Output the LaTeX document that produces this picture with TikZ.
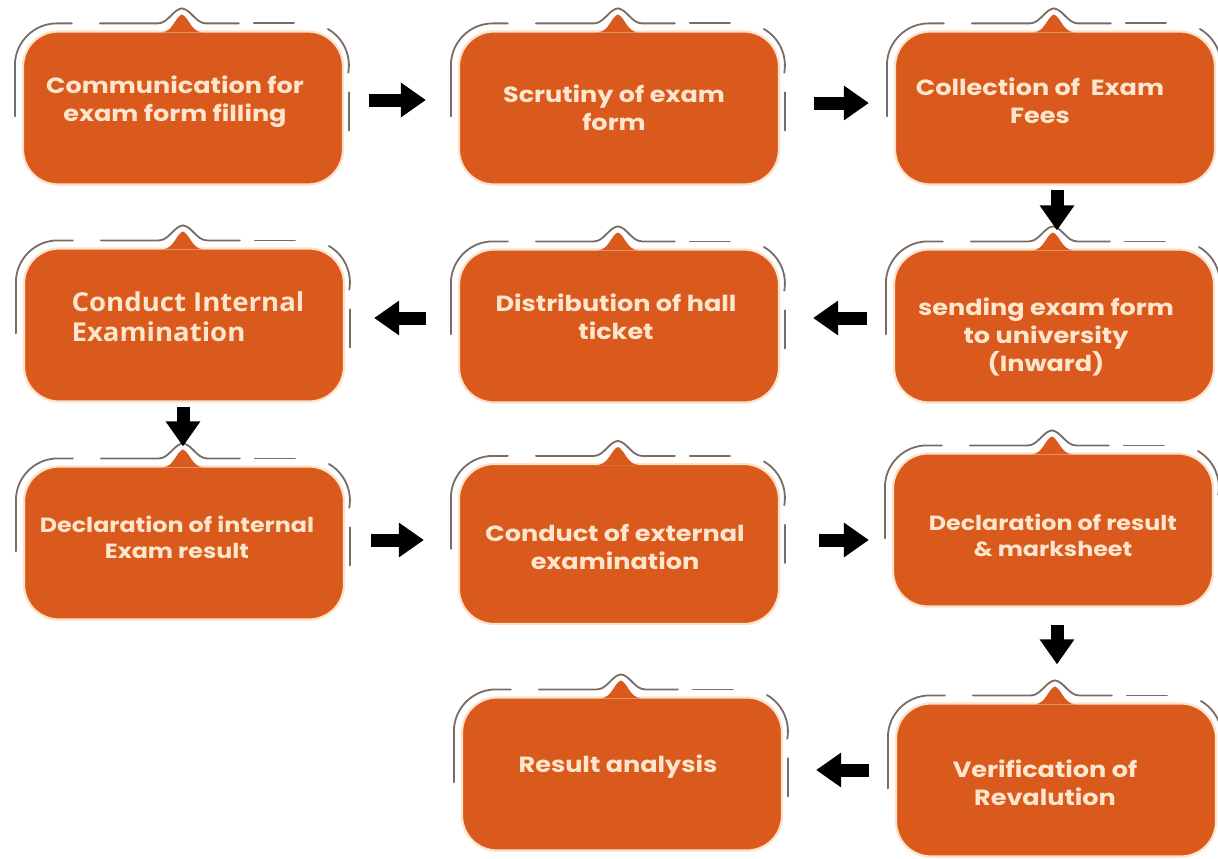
\documentclass[tikz,border=0pt]{standalone}
\usepackage{fontspec}
\setmainfont{Poppins}
\newfontfamily\wfont[FakeStretch=1.16]{Poppins}
\newfontfamily\osans[FakeStretch=1.06]{Open Sans}
\usetikzlibrary{arrows.meta}
\definecolor{boxor}{RGB}{217,90,28}
\definecolor{cream}{RGB}{252,226,200}
\definecolor{txtc}{RGB}{253,230,205}
\definecolor{olgray}{RGB}{120,108,100}
\tikzset{
  box/.style={rectangle, rounded corners=35pt, fill=boxor, draw=cream, line width=2.2pt,
    minimum width=320pt, minimum height=153pt, inner sep=0pt},
  txt/.style={text=txtc, font=\wfont\bfseries\fontsize{22}{28}\selectfont, align=center, inner sep=0pt},
  ol/.style={draw=olgray, line width=1.8pt, line cap=round},
  arr/.style={line width=13pt, -{Triangle[length=25pt,width=33pt]}},
}
\newcommand\deco[1]{%
  \begin{scope}[shift={(#1.north west)}]
    \fill[boxor] (140,2) .. controls (151,1) and (153,-13) .. (160,-16)
      .. controls (167,-13) and (169,1) .. (180,2) -- cycle;
    \draw[ol, rounded corners=42pt] (-7,86) -- (-7,-7) -- (50,-7);
    \draw[ol] (78,-7) -- (136,-7) .. controls (146,-7) and (151,-21) .. (160,-22)
      .. controls (169,-21) and (174,-7) .. (184,-7) -- (217,-7);
    \draw[ol] (232,-7) -- (272,-7);
    \draw[ol] (306,-1.4) arc[start angle=-60, end angle=10, radius=42];
    \draw[ol] (327,62) -- (327,100);
  \end{scope}}
\begin{document}
\begin{tikzpicture}[x=1pt,y=-1pt]
\useasboundingbox[fill=white] (0,0) rectangle (1218,859);
% boxes
\node[box] (b1) at (183,108) {};
\node[box] (b2) at (619,108) {};
\node[box] (b3) at (1055,108) {};
\node[box] (b4) at (184,325) {};
\node[box] (b5) at (619,326) {};
\node[box] (b6) at (1054,326) {};
\node[box] (b7) at (184,543) {};
\node[box, minimum height=160pt] (b8) at (619,544) {};
\node[box] (b9) at (1053,530) {};
\node[box] (b10) at (622,774) {};
\node[box] (b11) at (1056,780) {};
\foreach \b in {b1,b2,b3,b4,b5,b6,b7,b8,b9,b10,b11}{\deco{\b}}
% texts
\node[txt] (t1) at (175,102) {Communication for\\exam form filling};
\node[txt] (t2) at (614,108) {Scrutiny of exam\\form};
\node[txt] (t3) at (1040,101) {Collection of \ Exam\\Fees};
\node[txt, align=left, font=\osans\bfseries\fontsize{26}{30}\selectfont] (t4) at (188,317) {Conduct Internal\\Examination};
\node[txt] (t5) at (616,317) {Distribution of hall\\ticket};
\node[txt] (t6) at (1046,337) {sending exam form\\to university\\(Inward)};
\node[txt, font=\wfont\bfseries\fontsize{20.5}{26}\selectfont] (t7) at (177,537) {Declaration of internal\\Exam result};
\node[txt] (t8) at (615,547) {Conduct of external\\examination};
\node[txt, font=\wfont\bfseries\fontsize{20.5}{26}\selectfont] (t9) at (1053,535) {Declaration of result\\\& marksheet};
\node[txt] (t10) at (618,767) {Result analysis};
\node[txt] (t11) at (1045,783) {Verification of\\Revalution};
% arrows
\draw[arr] ([shift={(25,-8)}]b1.east) -- ([shift={(-32,-8)}]b2.west);
\draw[arr] ([shift={(34,-5)}]b2.east) -- ([shift={(-25,-5)}]b3.west);
\draw[arr] ([shift={(2,4)}]b3.south) -- ([shift={(3,-18)}]b6.north);
\draw[arr] ([shift={(-26,-8)}]b6.west) -- ([shift={(33,-8)}]b5.east);
\draw[arr] ([shift={(-32,-8)}]b5.west) -- ([shift={(29,-7)}]b4.east);
\draw[arr] ([shift={(-1,4)}]b4.south) -- ([shift={(-1,-19)}]b7.north);
\draw[arr] ([shift={(26,-3)}]b7.east) -- ([shift={(-34,-4)}]b8.west);
\draw[arr] ([shift={(39,-4)}]b8.east) -- ([shift={(-23,10)}]b9.west);
\draw[arr] ([shift={(4,17)}]b9.south) -- ([shift={(1,-38)}]b11.north);
\draw[arr] ([shift={(-26,-10)}]b11.west) -- ([shift={(33,-4)}]b10.east);
\end{tikzpicture}
\end{document}
